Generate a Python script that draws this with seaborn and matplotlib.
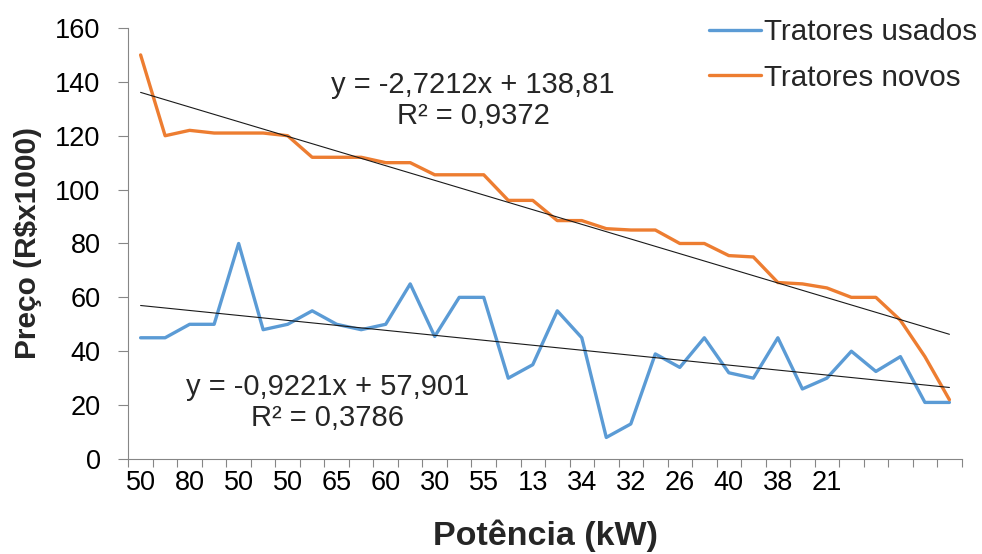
import numpy as np
import pandas as pd
import matplotlib
matplotlib.use("Agg")
import matplotlib.pyplot as plt
import seaborn as sns

# ---- data ----
categories = ["50", "", "80", "", "50", "", "50", "", "65", "", "60", "", "30", "", "55", "",
              "13", "", "34", "", "32", "", "26", "", "40", "", "38", "", "21", "", "", "", "", ""]
usados = [45, 45, 50, 50, 80, 48, 50, 55, 50, 48, 50, 65, 45.5, 60, 60, 30, 35, 55, 45, 8,
          13, 39, 34, 45, 32, 30, 45, 26, 30, 40, 32.5, 38, 21, 21]
novos = [150, 120, 122, 121, 121, 121, 120, 112, 112, 112, 110, 110, 105.5, 105.5, 105.5, 96,
         96, 88.5, 88.5, 85.5, 85, 85, 80, 80, 75.5, 75, 65.5, 65, 63.5, 60, 60, 51.5, 38, 22]
series_names = ["Tratores usados", "Tratores novos"]
trend_usados = (-0.9221, 57.901)
trend_novos = (-2.7212, 138.81)
eq_usados = "y = -0,9221x + 57,901\nR² = 0,3786"
eq_novos = "y = -2,7212x + 138,81\nR² = 0,9372"
yticks = [0, 20, 40, 60, 80, 100, 120, 140, 160]

BLUE = "#5B9BD5"
ORANGE = "#ED7D31"
GRAY = "#868686"

sns.set_theme(style="ticks")
plt.rcParams["font.family"] = ["Liberation Sans", "DejaVu Sans"]

idx = np.arange(len(categories))
df = pd.DataFrame({
    "x": np.concatenate([idx, idx]),
    "preco": np.concatenate([usados, novos]),
    "serie": [series_names[0]] * len(idx) + [series_names[1]] * len(idx),
})

fig = plt.figure(figsize=(9.82, 5.54), dpi=100)
ax = fig.add_axes([0.1307, 0.1715, 0.8486, 0.778])

sns.lineplot(data=df, x="x", y="preco", hue="serie", palette=[BLUE, ORANGE],
             linewidth=2.4, ax=ax, legend=True)

# trend lines from the fitted coefficients (x counted from 1)
xn = idx + 1
for slope, icpt in (trend_usados, trend_novos):
    tdf = pd.DataFrame({"x": idx, "y": slope * xn + icpt})
    sns.lineplot(data=tdf, x="x", y="y", color="#1a1a1a", linewidth=0.8, ax=ax,
                 zorder=5, legend=False)

ax.set_xlim(-0.5, len(categories) - 0.5)
ax.set_ylim(0, 160)
ax.set_yticks(yticks)
ax.set_yticklabels([str(v) for v in yticks])
ax.set_xticks(idx)
ax.set_xticklabels(categories)
ax.set_xticks(np.arange(-0.5, len(categories), 1), minor=True)

ax.tick_params(axis="x", which="major", length=0, pad=8, labelsize=19.5, colors="black")
ax.tick_params(axis="x", which="minor", length=6, width=0.8, color=GRAY)
ax.tick_params(axis="y", which="major", length=7, width=0.8, color=GRAY, pad=13,
               labelsize=19.5, labelcolor="black")

for s in ("top", "right"):
    ax.spines[s].set_visible(False)
for s in ("left", "bottom"):
    ax.spines[s].set_color(GRAY)
    ax.spines[s].set_linewidth(0.8)

ax.set_xlabel("Potência (kW)", fontsize=24.5, fontweight="bold")
ax.set_ylabel("Preço (R$x1000)", fontsize=21.5, fontweight="bold")
ax.xaxis.set_label_coords(0.5, -0.14)
ax.yaxis.set_label_coords(-0.1036, 0.5)

ax.text(13.57, 133, eq_novos, ha="center", va="center", fontsize=21, linespacing=1.12)
ax.text(7.63, 21.0, eq_usados, ha="center", va="center", fontsize=21, linespacing=1.15)

leg = ax.legend(loc="upper right", bbox_to_anchor=(977 / 982, 536 / 554),
                bbox_transform=fig.transFigure, frameon=False, fontsize=21.3,
                handlelength=1.75, handletextpad=0.1, labelspacing=0.6,
                borderpad=0, borderaxespad=0)
for h in leg.get_lines():
    h.set_linewidth(2.4)

fig.savefig("out.png", dpi=100)
